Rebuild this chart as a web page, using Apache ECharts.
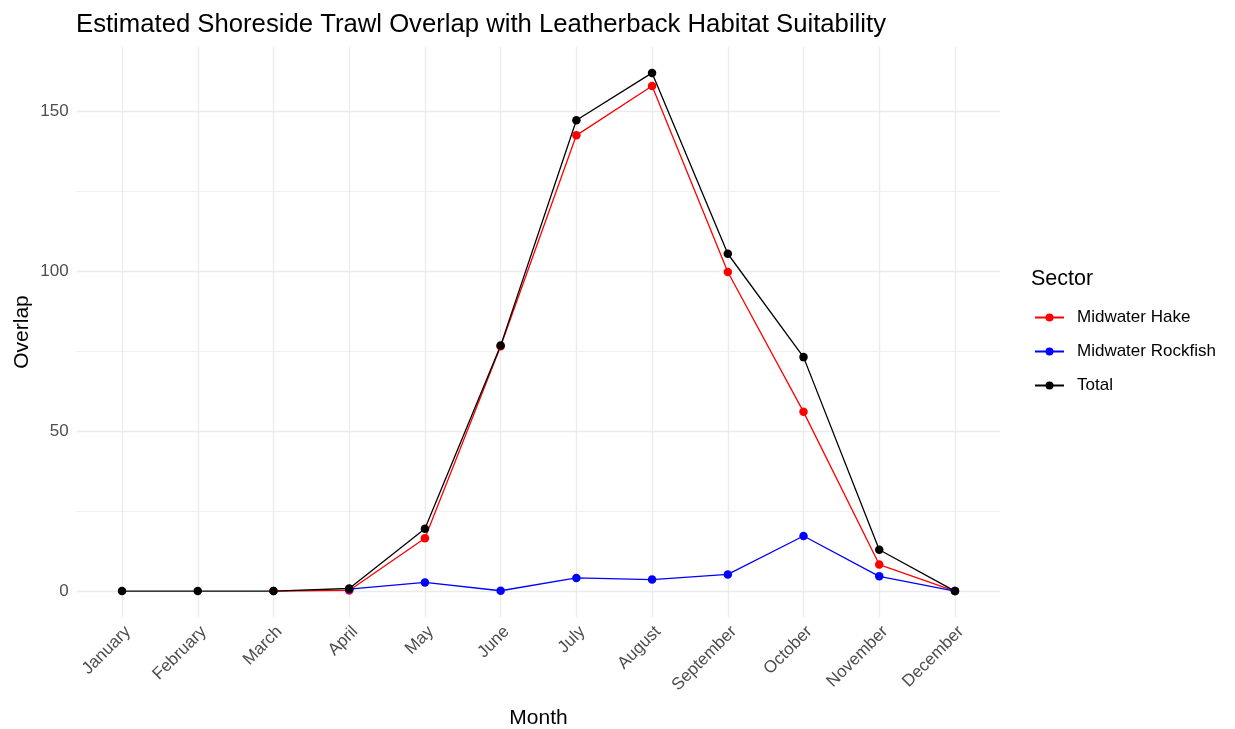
<!DOCTYPE html>
<html>
<head>
<meta charset="utf-8">
<script src="https://cdn.jsdelivr.net/npm/echarts@6/dist/echarts.min.js"></script>
<style>
html,body{margin:0;padding:0;background:#fff;}
#chart{width:1235px;height:729px;}
</style>
</head>
<body>
<div id="chart"></div>
<script>
const months = ['January','February','March','April','May','June','July','August','September','October','November','December'];
const hake = [null, null, 0, 0.2, 16.5, 76.5, 142.4, 157.8, 99.7, 56.0, 8.3, 0];
const rockfish = [null, null, null, 0.6, 2.7, 0.1, 4.1, 3.6, 5.2, 17.2, 4.6, 0];
const total = [0, 0, 0, 0.8, 19.5, 76.7, 147.1, 161.9, 105.4, 73.1, 12.9, 0];
const yTickLabels = [0, 50, 100, 150];
const yMinorTicks = [25, 75, 125];

const FONT = 'Liberation Sans, Arial, sans-serif';
const toPts = arr => arr.map((v, i) => [i, v]);

const chart = echarts.init(document.getElementById('chart'), null, {renderer: 'canvas'});

function lineSeries(name, values, color) {
  return {
    name: name,
    type: 'line',
    data: toPts(values),
    symbol: 'circle',
    symbolSize: 8.5,
    showAllSymbol: true,
    connectNulls: false,
    lineStyle: {color: color, width: 1.3},
    itemStyle: {color: color, borderWidth: 0},
    emphasis: {disabled: true},
    animation: false,
    z: 3
  };
}

const option = {
  backgroundColor: '#ffffff',
  animation: false,
  title: [
    {
      text: 'Estimated Shoreside Trawl Overlap with Leatherback Habitat Suitability',
      left: 76, top: 12, padding: 0,
      textStyle: {fontFamily: FONT, fontSize: 25.7, fontWeight: 'normal', color: '#000'}
    },
    {
      text: 'Sector',
      left: 1031, top: 268, padding: 0,
      textStyle: {fontFamily: FONT, fontSize: 21.5, fontWeight: 'normal', color: '#000'}
    }
  ],
  legend: {
    data: ['Midwater Hake', 'Midwater Rockfish', 'Total'],
    orient: 'vertical',
    left: 1034,
    top: 309,
    padding: 0,
    itemWidth: 29,
    itemHeight: 10,
    itemGap: 17,
    textStyle: {fontFamily: FONT, fontSize: 17, color: '#000', padding: [0, 0, 0, 8]},
    selectedMode: false
  },
  grid: {left: 76.6, right: 234.6, top: 47, bottom: 112, containLabel: false, outerBoundsMode: 'none'},
  xAxis: {
    type: 'value',
    min: -0.6,
    max: 11.6,
    axisLine: {show: false, onZero: false},
    axisTick: {show: false},
    splitLine: {show: false},
    axisLabel: {
      customValues: months.map((m, i) => i),
      formatter: v => months[Math.round(v)],
      rotate: 45,
      align: 'right',
      verticalAlign: 'top',
      margin: 6,
      fontFamily: FONT,
      fontSize: 17,
      color: '#4D4D4D'
    },
    name: 'Month',
    nameLocation: 'middle',
    nameGap: 91,
    nameMoveOverlap: false,
    nameTextStyle: {fontFamily: FONT, fontSize: 21, color: '#000'}
  },
  yAxis: {
    type: 'value',
    min: -8.1,
    max: 170,
    axisLine: {show: false},
    axisTick: {show: false},
    splitLine: {show: false},
    axisLabel: {
      customValues: yTickLabels,
      margin: 8,
      fontFamily: FONT,
      fontSize: 17,
      color: '#4D4D4D'
    },
    name: 'Overlap',
    nameLocation: 'middle',
    nameGap: 44,
    nameMoveOverlap: false,
    nameRotate: 90,
    nameTextStyle: {fontFamily: FONT, fontSize: 21, color: '#000'}
  },
  series: [
    {
      name: 'grid',
      type: 'line',
      data: [],
      z: 0,
      silent: true,
      markLine: {
        silent: true,
        z: 0,
        symbol: 'none',
        label: {show: false},
        animation: false,
        data: [].concat(
          yMinorTicks.map(v => ({yAxis: v, lineStyle: {color: '#F0F0F0', width: 1, type: 'solid'}})),
          yTickLabels.map(v => ({yAxis: v, lineStyle: {color: '#EBEBEB', width: 1.3, type: 'solid'}})),
          months.map((m, i) => ({xAxis: i, lineStyle: {color: '#EBEBEB', width: 1.3, type: 'solid'}}))
        )
      }
    },
    lineSeries('Midwater Hake', hake, '#FF0000'),
    lineSeries('Midwater Rockfish', rockfish, '#0000FF'),
    lineSeries('Total', total, '#000000')
  ]
};
chart.setOption(option);
</script>
</body>
</html>
